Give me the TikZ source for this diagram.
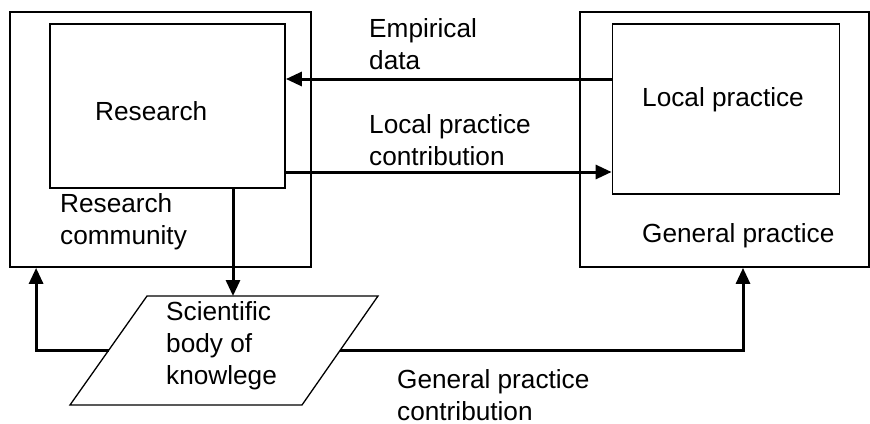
\documentclass[tikz,border=0pt]{standalone}
\usepackage{fontspec}
\setmainfont{Liberation Sans}
\usetikzlibrary{arrows.meta}
\begin{document}
\begin{tikzpicture}[x=1pt,y=-1pt,
  box/.style={draw,line width=1.8pt,inner sep=0pt},
  arr/.style={line width=3pt,-{Triangle[length=16pt,width=14pt]}},
  lbl/.style={anchor=base west,inner sep=0pt,align=left,font=\fontsize{26.2}{32}\selectfont}]
\useasboundingbox (0,0) rectangle (870,423);
\node[box,minimum width=301pt,minimum height=255pt] (rc) at (160.5,139.5) {};
\node[box,minimum width=235pt,minimum height=164pt] (res) at (167.5,106) {};
\node[box,minimum width=289pt,minimum height=255pt] (gp) at (724.5,139.5) {};
\node[box,minimum width=227pt,minimum height=170pt] (lp) at (726,109) {};
% parallelogram
\coordinate (sbbl) at (70,405);
\coordinate (sbtl) at (147,296);
\coordinate (sbtr) at (378,296);
\coordinate (sbbr) at (302,405);
\coordinate (sbw) at (108.5,350.5);
\coordinate (sbe) at (340,350.5);
\coordinate (sbn) at (262.5,296);
\draw[line width=1.3pt,line join=miter] (sbbl) -- (sbtl) -- (sbtr) -- (sbbr) -- cycle;
% labels (base = baseline of last line)
\node[lbl] (tres) at (95,120) {Research};
\node[lbl] (trc) at (60,244) {Research\\community};
\node[lbl] (temp) at (369,69) {Empirical\\data};
\node[lbl] (tlpc) at (369,165) {Local practice\\contribution};
\node[lbl] (tlp) at (642,106) {Local practice};
\node[lbl] (tgp) at (642,242) {General practice};
\node[lbl] (tsb) at (166,384) {Scientific\\body of\\knowlege};
\node[lbl] (tgpc) at (397,420) {General practice\\contribution};
% connectors
\draw[arr] ([yshift=30pt]lp.west) -- ([yshift=30pt]lp.west -| res.east);
\draw[arr] ([yshift=-66pt]res.east) -- ([yshift=-66pt]res.east -| lp.west);
\coordinate (d) at ([xshift=65.5pt]res.south);
\draw[arr] (d) -- (d |- sbn);
\draw[arr] (sbw) -| ([xshift=27pt]rc.south west);
\draw[arr] (sbe) -| ([xshift=18.5pt]gp.south);
\end{tikzpicture}
\end{document}
